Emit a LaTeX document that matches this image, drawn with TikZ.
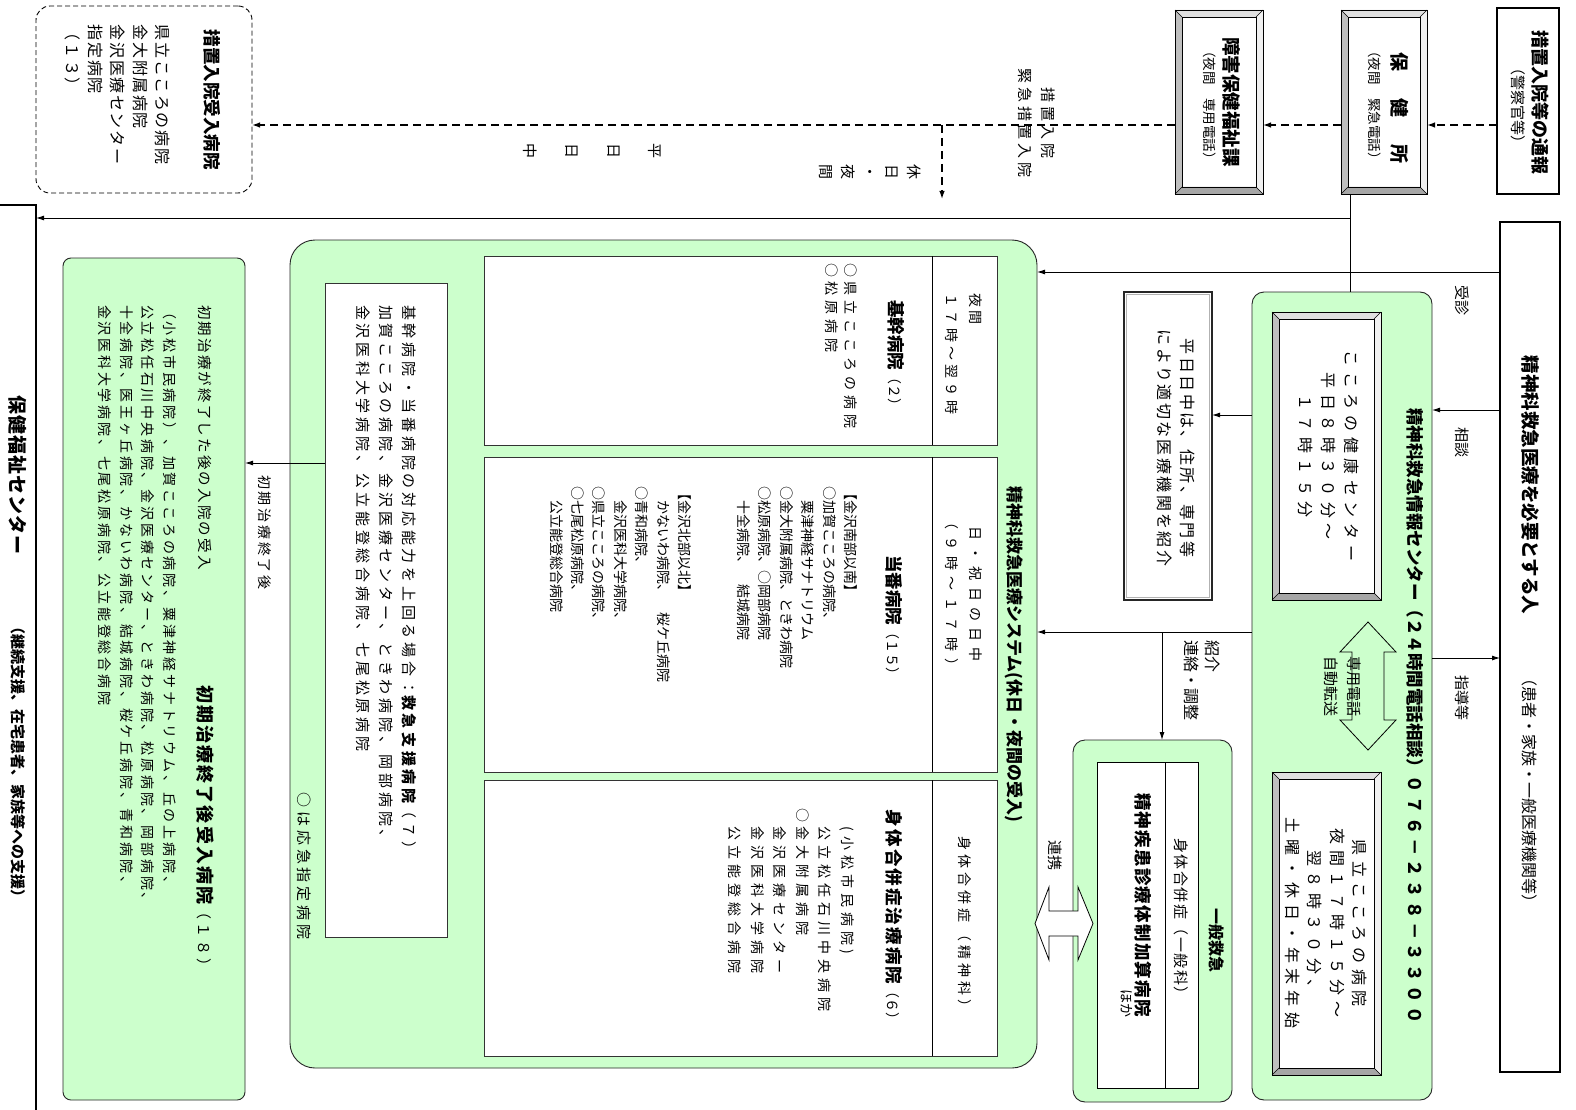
\documentclass[tikz,border=0pt]{standalone}
\usepackage{fontspec}
\setmainfont{Noto Sans CJK JP}
\usetikzlibrary{arrows.meta,calc}
\definecolor{jgreen}{HTML}{CCFFCC}
\newcommand\fsz[2]{\fontsize{#1}{#2}\selectfont}
\newcommand\lspc[1]{\addfontfeatures{LetterSpace=#1}}
\newcommand\bevelframe[1]{%
  \fill[gray!25] (#1.north west) -- (#1.north east) -- ([shift={(-7pt,-7pt)}]#1.north east) -- ([shift={(7pt,-7pt)}]#1.north west) -- cycle;
  \fill[gray!12] (#1.north east) -- (#1.south east) -- ([shift={(-7pt,7pt)}]#1.south east) -- ([shift={(-7pt,-7pt)}]#1.north east) -- cycle;
  \fill[gray!70] (#1.south east) -- (#1.south west) -- ([shift={(7pt,7pt)}]#1.south west) -- ([shift={(-7pt,7pt)}]#1.south east) -- cycle;
  \fill[gray!50] (#1.south west) -- (#1.north west) -- ([shift={(7pt,-7pt)}]#1.north west) -- ([shift={(7pt,7pt)}]#1.south west) -- cycle;
  \draw[line width=0.7pt] (#1.north west) rectangle (#1.south east);
  \draw[line width=0.7pt] ([shift={(7pt,-7pt)}]#1.north west) rectangle ([shift={(-7pt,7pt)}]#1.south east);
  \draw[line width=0.4pt] (#1.north west) -- ([shift={(7pt,-7pt)}]#1.north west);
  \draw[line width=0.4pt] (#1.north east) -- ([shift={(-7pt,-7pt)}]#1.north east);
  \draw[line width=0.4pt] (#1.south west) -- ([shift={(7pt,7pt)}]#1.south west);
  \draw[line width=0.4pt] (#1.south east) -- ([shift={(-7pt,7pt)}]#1.south east);
}
\begin{document}
\begin{tikzpicture}[x=1pt,y=-1pt,
  plainbox/.style={draw=black, fill=white, inner sep=0pt, outer sep=0pt, line width=0.9pt},
  greenbox/.style={draw=black!85, fill=jgreen, rounded corners=12pt, inner sep=0pt, outer sep=0pt, line width=0.9pt},
  vtext/.style={rotate=-90, inner sep=0pt, outer sep=0pt},
  conn/.style={line width=0.9pt, -{Latex[length=8pt,width=5pt]}},
  dconn/.style={line width=1.3pt, dash pattern=on 8pt off 5pt, -{Latex[length=8pt,width=5.5pt]}},
  plainline/.style={line width=0.9pt}
]
\useasboundingbox (0,0) rectangle (1576,1110);
\fill[white] (0,0) rectangle (1576,1110);

% helper coordinates
\coordinate (h125) at (0,125);
\coordinate (h218) at (0,218);
\coordinate (h272) at (0,272);
\coordinate (h410) at (0,410);
\coordinate (h415) at (0,415);
\coordinate (h463) at (0,463);
\coordinate (h632) at (0,632);
\coordinate (h658) at (0,658);
\coordinate (v932) at (932,0);
\coordinate (v1162) at (1162,0);
\coordinate (v1165) at (1165,0);
\coordinate (v1350) at (1350,0);

% ---------- boxes ----------
\node[plainbox, line width=1.2pt, minimum width=62pt, minimum height=186pt] (tsuho) at (1528,101) {};
\node[plainbox, minimum width=86pt, minimum height=184pt] (hokenjo) at (1384,102) {};
\node[plainbox, minimum width=88pt, minimum height=184pt] (shogai) at (1219,102) {};
\node[plainbox, dashed, dash pattern=on 5pt off 3pt, rounded corners=14pt, minimum width=216pt, minimum height=187pt] (sochi) at (144,99.5) {};
\node[plainbox, line width=2.5pt, minimum width=60pt, minimum height=850pt] (person) at (1530,647) {};
\node[plainbox, line width=2.8pt, minimum width=41pt, minimum height=920pt] (hfc) at (15.5,665) {};

\node[greenbox, minimum width=180pt, minimum height=808pt] (center) at (1342,696) {};
\node[plainbox, minimum width=109pt, minimum height=288pt] (kokoro) at (1326.5,456) {};
\node[plainbox, minimum width=109pt, minimum height=303pt] (kenritsu) at (1326.5,923.5) {};
\node[plainbox, draw=black!85, line width=1.1pt, minimum width=88pt, minimum height=308pt] (heijitsu) at (1168,446) {};
\draw[gray!60, line width=1.2pt] ([shift={(2.5pt,-2.5pt)}]heijitsu.north west) rectangle ([shift={(-2.5pt,2.5pt)}]heijitsu.south east);

\node[greenbox, minimum width=159pt, minimum height=362pt] (ippan) at (1152.5,921) {};
\node[plainbox, minimum width=101pt, minimum height=326pt] (ippanIn) at (1147.5,925) {};
\draw[plainline] (ippanIn.north -| v1165) -- (ippanIn.south -| v1165);

\node[greenbox, rounded corners=25pt, minimum width=747pt, minimum height=828pt] (sys) at (663.5,654) {};
\node[plainbox, draw=black!80, minimum width=513pt, minimum height=189pt] (p1) at (740.5,350.5) {};
\node[plainbox, draw=black!80, minimum width=513pt, minimum height=315pt] (p2) at (740.5,614.5) {};
\node[plainbox, draw=black!80, minimum width=513pt, minimum height=276pt] (p3) at (740.5,918) {};
\draw[plainline] (p1.north -| v932) -- (p1.south -| v932);
\draw[plainline] (p2.north -| v932) -- (p2.south -| v932);
\draw[plainline] (p3.north -| v932) -- (p3.south -| v932);
\node[plainbox, draw=black!80, minimum width=122pt, minimum height=654pt] (kyukyu) at (386,610) {};

\node[greenbox, rounded corners=8pt, minimum width=182pt, minimum height=842pt] (shoki) at (154,679) {};

\bevelframe{hokenjo}
\bevelframe{shogai}
\bevelframe{kokoro}
\bevelframe{kenritsu}

% ---------- connectors ----------
\draw[dconn] (tsuho.west |- h125) -- (hokenjo.east |- h125);
\draw[dconn] (hokenjo.west |- h125) -- (shogai.east |- h125);
\draw[dconn] (shogai.west |- h125) -- (sochi.east |- h125);
\coordinate (branch) at (942,125);
\coordinate (branchEnd) at (942,199);
\draw[dconn] (branch) -- (branchEnd);

\draw[conn] (person.west |- h272) -- (sys.east |- h272);
\draw[plainline] (hokenjo.south -| v1350) -- (center.north -| v1350);
\draw[conn] (v1350 |- h218) -- (hfc.east |- h218);
\draw[conn] (person.west |- h410) -- (center.east |- h410);
\draw[conn] (center.east |- h658) -- (person.west |- h658);
\draw[conn] (center.west |- h415) -- (heijitsu.east |- h415);
\draw[conn] (center.west |- h632) -- (sys.east |- h632);
\draw[conn] (v1162 |- h632) -- (ippan.north -| v1162);
\draw[conn] (kyukyu.west |- h463) -- (shoki.east |- h463);

% hollow double arrows
\draw[line width=0.8pt] (1368,622) -- (1396,652) -- (1384,652) -- (1384,720) -- (1396,720) -- (1368,750) -- (1340,720) -- (1352,720) -- (1352,652) -- (1340,652) -- cycle;
\draw[line width=0.8pt, fill=white] (1035,923.5) -- (1049,887) -- (1049,911) -- (1078,911) -- (1078,887) -- (1093,923.5) -- (1078,960) -- (1078,936) -- (1049,936) -- (1049,960) -- cycle;

% ---------- texts ----------
% top row
\node[vtext, font={\bfseries\fsz{18}{22}}] (tTsuhoA) at (1540,103) {措置入院等の通報};
\node[vtext, font={\fsz{15}{20}}] (tTsuhoB) at (1518,106) {（警察官等）};
\node[vtext, font={\bfseries\fsz{19}{22}\lspc{20}}] (tHokenA) at (1400,108) {保　健　所};
\node[vtext, font={\fsz{13.5}{18}}] (tHokenB) at (1375,105) {（夜間　緊急電話）};
\node[vtext, font={\bfseries\fsz{18.5}{22}}] (tShogaiA) at (1232,102) {障害保健福祉課};
\node[vtext, font={\fsz{13.5}{18}}] (tShogaiB) at (1210,105) {（夜間　専用電話）};
\node[vtext, font={\bfseries\fsz{17.5}{20}}] (tSochiA) at (212,100) {措置入院受入病院};
\node[vtext, anchor=north west, align=left, font={\fsz{16}{22.5}\lspc{10}}] (tSochiB) at (170,25) {県立こころの病院\\金大附属病院\\金沢医療センター\\指定病院\\（１３）};

\node[vtext, align=center, font={\fsz{15}{23}\lspc{25}}] (tSochiLbl) at (1037,123) {措置入院\\緊急措置入院};
\node[vtext, align=center, font={\fsz{15}{41.7}}] (tHeijitsuChu) at (592.5,151) {平\\日\\日\\中};
\node[vtext, align=center, font={\fsz{15}{22}}] (tKyuYakan) at (870.5,172) {休\\日\\・\\夜\\間};

% person
\node[vtext, font={\bfseries\fsz{18.5}{22}}] (tPersonA) at (1530,485) {精神科救急医療を必要とする人};
\node[vtext, font={\fsz{16}{20}}] (tPersonB) at (1530,790) {（患者・家族・一般医療機関等）};
\node[vtext, font={\fsz{15}{20}}] (tJushin) at (1462,300) {受診};
\node[vtext, font={\fsz{15}{20}}] (tSodan) at (1462,442) {相談};
\node[vtext, font={\fsz{15}{20}}] (tShido) at (1462,698) {指導等};

% info center
\node[vtext, anchor=west, font={\bfseries\fsz{17.5}{20}}] (tCenter) at (1415,408) {精神科救急情報センター（２４時間電話相談）{\lspc{20}０７６－２３８－３３００}};
\node[vtext, align=center, font={\fsz{16}{23}\lspc{35}}] (tKokoro) at (1329,456) {こころの健康センター\\平日８時３０分～\\１７時１５分};
\node[vtext, align=center, font={\fsz{16}{22.5}\lspc{35}}] (tKenritsu) at (1326,923) {県立こころの病院\\夜間１７時１５分～\\翌８時３０分、\\土曜・休日・年末年始};
\node[vtext, align=center, font={\fsz{15}{23}}] (tSenyo) at (1343,686) {専用電話\\自動転送};
\node[vtext, align=center, font={\fsz{16}{23}\lspc{15}}] (tHeijitsu) at (1176.5,448) {平日日中は、住所、専門等\\により適切な医療機関を紹介};
\node[vtext, anchor=north west, align=left, font={\fsz{16}{21}}] (tShokai) at (1220,640) {紹介\\連絡・調整};

% ippan
\node[vtext, font={\bfseries\fsz{16}{20}}] (tIppan) at (1217,940) {一般救急};
\node[vtext, font={\fsz{15}{20}\lspc{10}}] (tIppanStrip) at (1181,920) {身体合併症（一般科）};
\node[vtext, font={\bfseries\fsz{17.5}{20}\lspc{7}}] (tIppanTitle) at (1143,905) {精神疾患診療体制加算病院};
\node[vtext, anchor=east, font={\fsz{14}{18}}] (tHoka) at (1127,1017) {ほか};
\node[vtext, font={\fsz{15}{20}}] (tRenkei) at (1055,855) {連携};

% system
\node[vtext, anchor=west, font={\bfseries\fsz{17}{20}}] (tSys) at (1014,486) {精神科救急医療システム(休日・夜間の受入)};
% panel 1
\node[vtext, anchor=north west, align=left, font={\fsz{14}{24}}] (tP1strip) at (982,293) {夜 間\\{\lspc{28}１７時～翌９時}};
\node[vtext, font={\fsz{14}{20}}] (tP1title) at (896,356) {{\bfseries\fsz{17.5}{20}基幹病院}（２）};
\node[vtext, anchor=north west, align=left, font={\fsz{14}{19.6}\lspc{35}}] (tP1list) at (857.5,263) {○県立こころの病院\\○松原病院};
% panel 2
\node[vtext, align=center, font={\fsz{14}{24}\lspc{45}}] (tP2strip) at (964,594) {日・祝日の日中\\（９時～１７時）};
\node[vtext, font={\fsz{14}{20}}] (tP2title) at (894,618) {{\bfseries\fsz{17.5}{20}当番病院}（１５）};
\node[vtext, anchor=north west, align=left, font={\fsz{14}{21.4}}] (tP2listA) at (857.3,486) {【金沢南部以南】\\○加賀こころの病院、\\　粟津神経サナトリウム\\○金大附属病院、ときわ病院\\○松原病院、○岡部病院\\　十全病院、　結城病院};
\node[vtext, anchor=north west, align=left, font={\fsz{14}{21.4}}] (tP2listB) at (691.3,486) {【金沢北部以北】\\　かないわ病院、　桜ケ丘病院\\○青和病院、\\　金沢医科大学病院、\\○県立こころの病院、\\○七尾松原病院、\\　公立能登総合病院};
% panel 3
\node[vtext, font={\fsz{14}{20}\lspc{30}}] (tP3strip) at (965,925) {身体合併症（精神科）};
\node[vtext, font={\fsz{14}{20}}] (tP3title) at (894,918) {{\bfseries\fsz{17.5}{20}\lspc{12}身体合併症治療病院}（６）};
\node[vtext, anchor=north west, align=left, font={\fsz{14}{22.5}\lspc{35}}] (tP3list) at (854.3,808) {　(小松市民病院)\\　公立松任石川中央病院\\○金大附属病院\\　金沢医療センター\\　金沢医科大学病院\\　公立能登総合病院};
% kyukyu
\node[vtext, anchor=north west, align=left, font={\fsz{15}{23}\lspc{25}}] (tKyukyu) at (416.7,305) {基幹病院・当番病院の対応能力を上回る場合：{\bfseries 救急支援病院}（７）\\加賀こころの病院、金沢医療センター、ときわ病院、岡部病院、\\金沢医科大学病院、公立能登総合病院、七尾松原病院};
\node[vtext, font={\fsz{15}{20}\lspc{25}}] (tOukyu) at (304,866) {○は応急指定病院};

% shoki
\node[vtext, anchor=west, font={\fsz{14.5}{20}\lspc{15}}] (tShokiA) at (205,305) {初期治療が終了した後の入院の受入};
\node[vtext, anchor=west, font={\fsz{15}{20}\lspc{20}}] (tShokiB) at (205,685) {{\bfseries\fsz{18}{20}\lspc{12}初期治療終了後受入病院}（１８）};
\node[vtext, anchor=north west, align=left, font={\fsz{14}{21.5}\lspc{20}}] (tShokiList) at (176.3,305) {（小松市民病院）、加賀こころの病院、粟津神経サナトリウム、丘の上病院、\\公立松任石川中央病院、金沢医療センター、ときわ病院、松原病院、岡部病院、\\十全病院、医王ヶ丘病院、かないわ病院、結城病院、桜ケ丘病院、青和病院、\\金沢医科大学病院、七尾松原病院、公立能登総合病院};
\node[vtext, anchor=west, font={\fsz{14}{20}\lspc{20}}] (tShokiLbl) at (265,475) {初期治療終了後};

% hfc
\node[vtext, font={\bfseries\fsz{19}{22}\lspc{5}}] (tHfcA) at (18,475) {保健福祉センター};
\node[vtext, font={\bfseries\fsz{15}{20}}] (tHfcB) at (18,762) {（継続支援、在宅患者、家族等への支援）};
\end{tikzpicture}
\end{document}
